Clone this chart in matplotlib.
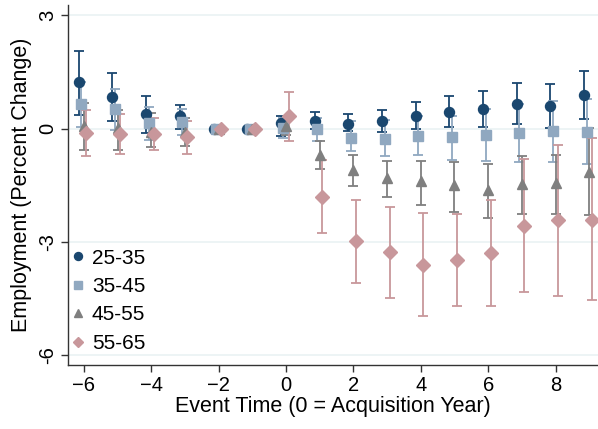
import matplotlib
matplotlib.use("Agg")
import matplotlib.pyplot as plt
import numpy as np

plt.rcParams['font.family'] = ['Liberation Sans', 'DejaVu Sans']

# event time relative to the acquisition year
years = np.arange(-6, 10)

groups = ['25-35', '35-45', '45-55', '55-65']

# point estimates (percent change in employment) by age group
est_25_35 = [1.22, 0.83, 0.38, 0.32, 0.0, 0.0, 0.14, 0.20, 0.12, 0.20, 0.34, 0.43, 0.53, 0.66, 0.60, 0.88]
est_35_45 = [0.65, 0.53, 0.14, 0.16, 0.0, 0.0, 0.02, -0.02, -0.24, -0.27, -0.19, -0.23, -0.16, -0.11, -0.07, -0.09]
est_45_55 = [0.07, 0.01, -0.08, -0.08, 0.0, 0.0, 0.07, -0.70, -1.09, -1.31, -1.40, -1.50, -1.62, -1.46, -1.44, -1.14]
est_55_65 = [-0.12, -0.14, -0.14, -0.23, 0.0, 0.0, 0.32, -1.80, -2.99, -3.28, -3.61, -3.47, -3.30, -2.59, -2.43, -2.42]

# 95% confidence bounds (nan where the year is the omitted reference)
nan = np.nan
lo_25_35 = [0.36, 0.19, -0.11, 0.00, nan, nan, -0.21, -0.02, -0.06, -0.10, -0.02, 0.03, 0.05, 0.12, 0.01, 0.26]
hi_25_35 = [2.06, 1.47, 0.87, 0.63, nan, nan, 0.34, 0.45, 0.39, 0.49, 0.70, 0.85, 1.00, 1.21, 1.19, 1.51]
lo_35_45 = [0.04, -0.03, -0.30, -0.17, nan, nan, -0.24, -0.34, -0.59, -0.72, -0.70, -0.83, -0.85, -0.88, -0.88, -0.94]
hi_35_45 = [1.22, 1.05, 0.58, 0.51, nan, nan, 0.28, 0.28, 0.19, 0.23, 0.32, 0.34, 0.53, 0.65, 0.74, 0.79]
lo_45_55 = [-0.56, -0.56, -0.48, -0.46, nan, nan, -0.17, -1.07, -1.53, -1.80, -2.02, -2.20, -2.37, -2.26, -2.26, -2.28]
hi_45_55 = [0.67, 0.50, 0.42, 0.27, nan, nan, 0.23, -0.34, -0.70, -0.85, -0.87, -0.89, -0.93, -0.74, -0.70, 0.01]
lo_55_65 = [-0.74, -0.67, -0.56, -0.67, nan, nan, -0.33, -2.77, -4.09, -4.49, -4.97, -4.69, -4.71, -4.34, -4.44, -4.55]
hi_55_65 = [0.50, 0.39, 0.28, 0.21, nan, nan, 0.98, -0.83, -1.89, -2.09, -2.24, -2.27, -1.90, -0.81, -0.43, -0.26]

estimates = [est_25_35, est_35_45, est_45_55, est_55_65]
lows = [lo_25_35, lo_35_45, lo_45_55, lo_55_65]
highs = [hi_25_35, hi_35_45, hi_45_55, hi_55_65]

colors = ['#1a476f', '#90a8c0', '#7f7f7f', '#c8979b']
markers = ['o', 's', '^', 'D']
sizes = [7.2, 6.8, 7.2, 6.8]
shifts = [-0.15, -0.075, 0.0, 0.075]

fig = plt.figure(figsize=(5.98, 4.29), dpi=100)
ax = fig.add_axes([0.1137, 0.1492, 0.8863, 0.8391])

for est, lo, hi, c, m, s, dx, lab in zip(estimates, lows, highs, colors, markers, sizes, shifts, groups):
    est = np.asarray(est)
    err = np.vstack([est - np.asarray(lo), np.asarray(hi) - est])
    ax.errorbar(years + dx, est, yerr=err, fmt=m, color=c, ms=s, mec=c,
                ecolor=c, elinewidth=1.3, capsize=3.5, capthick=1.3, label=lab)

ax.set_xlim(-6.47, 9.26)
ax.set_ylim(-6.26, 3.27)
ax.set_xticks(np.arange(-6, 9, 2))
ax.set_yticks([-6, -3, 0, 3])
ax.set_yticklabels(['-6', '-3', '0', '3'], rotation=90, va='center')
ax.grid(axis='y', color='#eaf2f3', lw=1.2)
ax.set_axisbelow(True)

for side in ['top', 'right']:
    ax.spines[side].set_visible(False)
for side in ['left', 'bottom']:
    ax.spines[side].set_color('#333333')
    ax.spines[side].set_linewidth(1.0)
ax.tick_params(length=5, width=1, color='#333333', labelsize=14.5, pad=3)

ax.set_xlabel('Event Time (0 = Acquisition Year)', fontsize=15.5, labelpad=1)
ax.set_ylabel('Employment (Percent Change)', fontsize=15.5, labelpad=4)

handles, labels = ax.get_legend_handles_labels()
handles = [h[0] for h in handles]
ax.legend(handles, labels, loc='lower left', bbox_to_anchor=(0.0, 0.028),
          frameon=False, fontsize=15, handletextpad=0.25, labelspacing=0.45,
          handlelength=0.8, borderpad=0.1, borderaxespad=0.0, markerscale=0.8)

fig.savefig('out.png', dpi=100)
